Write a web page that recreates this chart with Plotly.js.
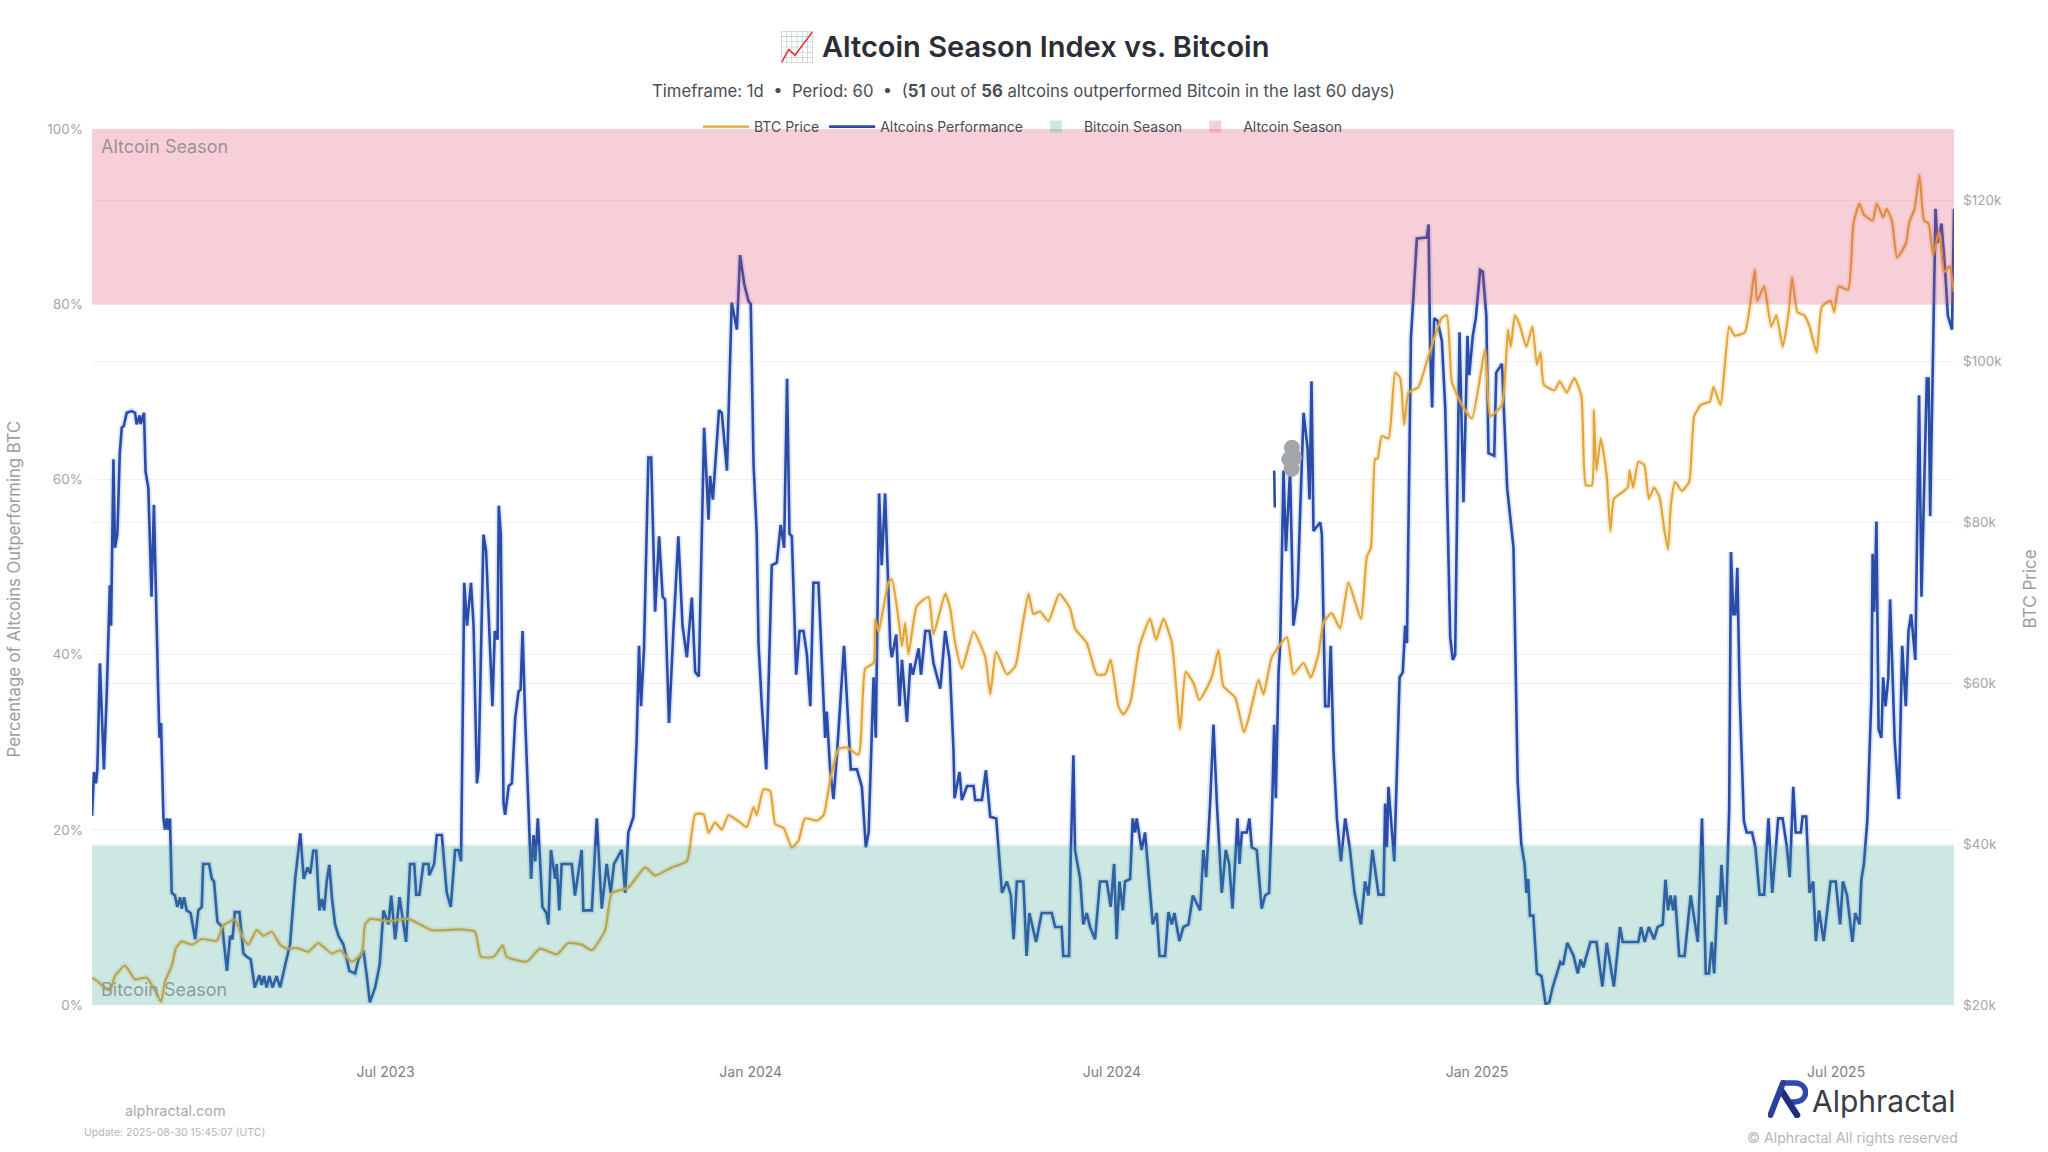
<!DOCTYPE html>
<html>
<head>
<meta charset="utf-8">
<script src="https://cdn.plot.ly/plotly-3.0.1.min.js"></script>
<style>
  html, body { margin: 0; padding: 0; background: #fff; }
</style>
</head>
<body>
<div id="chart" style="width:2048px;height:1152px;"></div>
<script>
// days counted from the left edge of the chart
var startDay = Date.UTC(2023, 1, 3);
var lastDay = 938.4;

var altDays = [0,0.7,1,2,2.7,4,4.7,6,7.4,9,9.6,10.8,11.6,12.8,14,15,16,17.5,20,21.7,22.5,24,24.5,26.2,27,28.4,30,31.2,33.4,34,34.8,36,36.8,37.7,38.5,39.3,40.2,41.8,43,44.4,45.2,46.4,47.7,49.7,52,53.6,55.3,56,59,60.4,61.5,63.2,65.7,68,69.6,70.8,72,74.3,76.3,77.6,80,82,84.4,85.5,86.7,88,89.4,91,93,94.8,98,99.8,102.4,105,106.7,108.6,110,111.5,113,114.6,115.8,117,118.3,119.6,121,122.5,124.2,126.7,129.7,132.6,134.3,136.8,138.5,140,142.7,145,146.9,149.4,150.8,152.8,155,158.3,160.3,162.4,163.4,165,167,169.6,170,172.4,173.8,176.3,178.8,180.8,183,184.7,186,187.6,189,191,192.3,194,194.8,197.3,198.6,200,201.8,203,204.4,205,206,207.4,208.2,210,211.6,213.3,215,216,217,218.3,220.5,221.3,222.5,223.4,224.7,227,229,230,231.3,233.4,234.2,235.5,236.7,241.8,243.4,246.8,247.6,251.9,254.4,256.9,259.4,261.4,263.1,267,268.7,270.3,272.9,274.5,275.7,276.7,278.2,280.4,281.8,283.8,285.8,287.6,288.8,290.8,293,295.5,297.6,299.8,302.3,304,305.8,308.5,310.7,311.5,312.9,316,317.4,320,322.4,325,326.6,328.7,330.8,332,333.4,335,335.9,337.6,339.8,342.6,345.1,347.1,348.8,350.3,351.5,352.7,354.9,356.6,358.6,360.3,362,363.6,366.1,369.5,370.3,372,373.7,375.4,379,382.4,385.5,388,390,391.4,393.9,395,396.7,398,399.7,402.3,403.1,405.3,407,408.2,410.7,412.4,413.7,416.6,417.8,420,422.1,424.1,427.5,430,432.2,434.2,434.7,437.2,438.4,441,444.3,445.1,448.5,450.5,452.7,455.7,458.6,461.1,463.1,464.5,466.1,469.4,471,472.4,475.8,478.6,483.7,485.4,488.7,489.5,492.4,493.2,494.6,495.4,498,499.6,501.3,503,505.5,508,511.4,513.4,515.1,516.4,517.8,519.5,520.6,523.2,524.5,525.7,526.5,529,530.7,533.2,534.6,536.6,538,540.8,542.5,544.2,545.5,548,550,552.6,554.8,558.5,560.1,561.5,563.5,565.2,566.9,569.4,571.4,573.1,574.8,577.3,578.3,579.5,582,583.3,584.5,587,589.5,591.2,593.2,594.6,595.8,596.6,598,598.8,600.5,601.7,603.8,605.5,607.5,608.9,610.6,612.6,613.6,614.6,615.6,619,619.8,621.5,623.2,624.3,625.7,627.4,629.4,631.6,634,636.3,639.5,641.6,643.3,645.3,648.4,650.9,651.7,652.6,653.4,656.3,659,660.6,661.8,662.7,664.7,667.7,672.7,673.6,674.4,675.4,676.4,678.1,680.3,682,684.5,685.8,687,689.2,691.2,693.2,694.1,695.9,697.4,699.6,700.9,702.7,703.8,706.7,707.7,710.6,711.7,713.2,716.4,718.5,720.3,722,722.9,723.8,724.7,726.4,728.2,730.5,732.6,734.4,736.1,738.8,740,741.4,743.5,746.7,748.8,750.2,751.6,752.9,755.2,758.2,761.2,763.4,767,770.1,771.4,779.3,780.7,782.5,784.6,787.2,789,791.6,793,794.3,795.5,796.9,797.8,799.9,802.6,805.7,809.3,811.4,813.3,814.9,816.3,817.5,819.3,820.4,821.2,823.4,825.1,826,827.2,828.2,829.2,830.4,832.5,833.9,836.6,838.3,840.4,842.7,844.9,846.8,849.8,852,854.2,855.6,857.4,858.6,861.2,862.1,863.9,865.6,867.4,868.8,870.4,872.7,876.2,878.8,881,882.4,884.5,887.2,888.6,890.8,891.7,893,894.7,896.8,897.4,898.2,899.3,900.4,901.8,902.7,903.9,905.3,906.2,908.5,910.6,912.3,914.1,915.5,916.8,918.9,920.8,922,924.7,925.6,926.4,929.1,930,932.1,933.9,935.3,937.4,938.4];
var altPct = [21.6,25,26.6,25.3,26.9,39,34.8,26.9,35.4,47.9,43.3,62.3,52.2,53.8,63,65.9,66.1,67.6,67.8,67.6,66.3,67.3,66.3,67.6,60.9,59,46.6,57.1,35.4,30.5,32.2,21.3,20,21.3,20,21.3,12.8,12.5,11.2,12.3,11,12.3,10.8,10.5,7.5,10.8,11.2,16.1,16.1,14.4,14.1,9.5,8.9,3.9,7.9,7.5,10.6,10.6,5.9,5.6,5.2,2,3.4,2.3,3.3,2,3.3,2,3.3,2,5.2,6.9,14.4,19.6,14.4,15.7,15,17.6,17.6,10.8,12.1,10.8,14.1,16,12.1,9.2,7.9,6.9,3.9,3.6,5.2,6.2,3.3,0.3,2,4.6,10.8,9.2,12.5,7.5,12.3,7.2,16.1,16.1,12.6,12.6,16.1,16.1,14.8,16.1,19.4,19.4,12.8,11.2,17.7,17.7,16.4,48.2,43.3,48.2,43.3,25.3,26.9,53.7,51.8,44.6,34.1,42.7,41.7,57,53.8,23,21.7,25,25.3,32.8,35.8,36,42.7,32.8,17.7,14.4,19.4,16.4,21.3,11.2,10.5,9.2,17.7,14.4,16.1,10.8,16.1,16.1,12.5,17.7,10.8,10.8,21.3,11,16.1,12.8,16.1,17.7,12.8,19.7,21.5,30.2,41,34.1,40.7,62.5,62.5,44.9,53.5,46.6,46.3,32.2,42.7,53.5,43.3,39.7,46.5,38,37.5,65.9,55.4,60.4,57.7,67.9,67.6,61,80.2,77.1,85.6,82.3,80.4,80,61.7,53.8,41.3,34.1,26.9,50.2,50.5,54.8,52.2,71.5,53.8,53.5,37.7,42.7,42.7,40,34.1,48.2,48.2,30.5,33.5,26.9,23.5,28.5,41,26.9,26.9,24.9,18,19.7,37.4,30.5,58.4,50.2,58.4,41,39.7,42.3,34.1,39.4,32.3,39,37.7,40.7,37.7,42.7,42.7,39,36.1,42.7,39.4,28.9,23.6,26.6,23.4,25,25,23.4,23.4,26.8,21.5,21.3,12.8,14.1,12.5,7.5,14.1,14.1,5.6,10.5,7.2,10.5,10.5,8.9,8.9,5.6,5.6,16.4,28.5,17.7,14.4,9.2,10.5,8.9,7.5,14.1,14.1,11.2,16.1,7.5,14.1,10.8,14.1,14.4,21.3,19.7,21.3,17.7,19.7,12.5,9.2,10.5,5.6,5.6,10.6,9.2,10.5,7.3,8.9,9.2,12.5,10.8,17.7,14.6,23,32,23,12.8,17.7,16.1,11,21.3,16.1,19.7,19.7,21.3,18,17.7,11,12.5,12.8,21.3,32,23.6,38,41,61,51.8,61,43.3,46.6,56.4,67.6,63.6,57.7,71.2,54.1,55.1,53.8,34.1,34.1,41,28.9,21.3,16.4,21.3,17.7,12.8,9.2,14.1,12.5,17.7,12.6,12.6,23,18,24.9,16.4,37.4,38,43.3,41.3,76.1,87.5,87.6,89.1,74.8,68.2,78.4,78.1,75.8,68.2,42,39.4,40,76.8,57.4,76.4,71.9,76.4,78.4,83.9,83.7,78.7,63,62.7,72.2,73.2,66.3,59,52.2,25.6,18.4,16.1,12.8,14.4,10.2,10.2,3.6,3.3,0.1,0.3,2,3.9,4.9,4.6,7.1,5.6,3.6,5.2,4.3,5.4,7.2,7.2,2.1,7.1,2.1,8.9,7.2,7.2,8.9,7.2,8.9,7.5,8.9,9.2,14.3,10.8,12.5,10.8,12.5,5.6,5.6,12.5,7.2,21.3,3.6,3.6,7.2,3.6,12.5,11.2,16,9.2,22.3,51.7,44.6,44.6,49.9,35.4,21,19.7,19.7,18,12.6,12.6,21.3,12.8,21.3,21.3,18,14.6,24.9,19.7,19.7,21.5,21.5,12.8,14.1,7.3,10.8,7.3,14.1,14.1,9.2,14.1,12.5,7.2,10.5,9.2,14.3,16.1,21,35.4,51.5,44.9,55.2,31.5,30.5,37.4,34.1,37.4,46.3,30.2,23.5,41,34.1,42.7,44.6,39.4,69.6,46.6,71.5,71.5,55.8,90.9,87,89.2,84,78.7,77.1,90.9];

var btcDays = [0,3,5.7,9,11.6,16.6,21.7,27.6,32.6,34.8,36.8,40.2,42.4,45.2,50.3,55.3,62.9,66.2,72.1,75.5,78.8,83,86.4,90.6,94.8,98.2,103.2,109,114,120.8,125,130.9,136,137.6,140.2,149.4,159.5,171.3,185.5,193,196,202.4,207,209,219.2,225.8,234.2,240,246.8,251.9,258.6,262,270.3,278.7,283.8,292.2,299.8,304,308.2,310.7,314,317.4,320.8,326.6,330,333.4,335,338.4,341.8,344.3,348.5,352.7,356,359.4,365.3,368.7,372,376.2,380.4,386.3,389.7,393.9,394.7,396.4,401.4,403.1,406.5,408.2,409.8,411.5,415.7,421.6,424.1,430,432.5,435,438.4,444.3,450.2,452.7,455.7,461.1,465.3,468.7,472,474.4,477.8,482,487.5,492.9,495.4,501.3,506.4,510.6,513.4,517.3,519.8,523.2,527.9,533.2,536.3,540,544.2,548.4,551.2,555.1,558.1,564.3,567.7,570.2,576.1,580.6,583.7,587.9,590.4,594.6,602.2,605.5,610.6,614.2,618.1,620.6,624.8,629,633.2,639.5,642.5,644.5,646.7,647.9,650,653.4,656.8,659.3,661.3,663.5,668.5,673.6,680.3,682.8,685.3,689.5,695.4,702.1,704.7,710.6,713.6,715,717.1,719.4,722.9,725.9,728.2,730,731.7,737,739.7,743.2,747,750.6,752.9,755.9,756.9,758.2,760.4,763.4,765.2,767,770.5,774,774.9,776.7,779.3,782.3,784.6,787.2,789.9,792.5,794.3,795.7,797.8,801.3,804.9,807.5,811,815.4,817.2,820.7,825.1,827.8,833,835.7,838,839.2,842.7,846.3,848.9,852.1,855.1,856.8,859.5,863,865.6,869.2,871.8,876.2,878,880.3,885,887.7,890.7,893,897.4,899.5,902.7,904.4,907.1,909.7,914.1,915.9,918.5,921,923.3,925.6,927.9,930.8,933.5,936.1,938.4];
var btcPrice = [23.4,22.9,22.3,21.8,23.6,24.9,23.2,23.4,21.4,20.4,22.9,24.9,27.1,27.9,27.5,28.2,28,29.9,30.6,28.6,27.5,29.3,28.6,29.1,27.5,27,27.1,26.6,27.7,26.4,26.8,25.4,26.4,30,30.7,30.4,30.7,29.3,29.4,29.1,26,26,27.4,26,25.4,27,26.3,27.7,27.5,26.8,29.3,33.9,34.6,37.1,36.1,37.1,37.9,43.7,43.7,41.4,42.7,41.8,43.6,42.7,42.1,44.6,43.6,46.8,46.6,42.5,42,39.6,40.4,43.2,42.9,43.6,47.9,51.8,52,51.1,61.8,62.5,67.9,66.4,72.5,72.9,67.9,64.6,67.5,63.6,69.6,70.7,66.1,71.1,69.3,65,61.8,66.4,63.2,58.6,63.9,61.1,62.1,66.8,71.1,68.6,68.9,67.7,71.1,69.3,66.8,65,61.1,61.1,62.9,57.1,56.1,57.5,64.6,68,65.4,68,65,54.3,61.4,60,57.9,60.7,64.1,59.6,58.2,53.9,56.4,60.4,58.6,63.2,65.7,61.1,62.5,60.7,63.6,67.5,68.7,66.8,72.5,68,75.7,76.8,87.9,87.9,90.7,90.4,98.6,97.9,92.1,96.1,96.8,100.7,105.4,105.7,97.5,95,92.9,101.4,93.2,94.6,103.9,101.8,105.7,104.6,101.8,104.3,99.6,101.1,97.1,96.4,97.5,96.1,97.9,95.7,84.6,84.6,93.9,86.4,90.4,85.7,78.9,82.9,83.6,84.3,86.4,84.3,87.5,87.1,82.9,84.3,83.2,78.9,76.6,82.1,85,83.9,85,93.2,94.6,95,96.8,94.6,104.3,103.2,103.6,107.1,111.4,107.5,109.3,104.3,105.7,101.8,106.1,110.4,106.1,105.7,104.3,101.1,106.8,107.5,106.1,109.3,108.9,117.1,119.6,118.2,117.5,119.6,117.9,118.9,117.5,112.9,114.6,117.3,118.9,123.1,117.5,117.1,113.2,116.1,111.1,111.8,108.6];

// stray bits left in the picture around late 2024
var smudgeDays = [604.7,603.4,605.8,604.6];
var smudgePct = [63.6,62.3,62.5,61.2];
var stubDays = [595.8,596.1];
var stubPct = [61,56.8];

var pctTicks = [0,20,40,60,80,100];
var pctLabels = ['0%','20%','40%','60%','80%','100%'];
var priceTicks = [20,40,60,80,100,120];
var priceLabels = ['$20k','$40k','$60k','$80k','$100k','$120k'];
var dateTicks = ['2023-07-01','2024-01-01','2024-07-01','2025-01-01','2025-07-01'];
var dateLabels = ['Jul 2023','Jan 2024','Jul 2024','Jan 2025','Jul 2025'];

var bitcoinSeasonTop = 18.2;
var altcoinSeasonBottom = 80;

function toDates(days) {
  return days.map(function(d) { return startDay + d * 86400000; });
}

var font = 'Inter, Roboto, sans-serif';
var gridColor = '#f0f2f4';
var btcColor = '#e2a63a';
var altColor = '#2b4ca6';

var logo = "<svg xmlns='http://www.w3.org/2000/svg' viewBox='0 0 40 38'>" +
  "<path d='M15 3H27C41 3 41 22 27 22H23' fill='none' stroke='#2f49ae' stroke-width='5.5'/>" +
  "<path d='M13 10L29 35' fill='none' stroke='#1f2f80' stroke-width='6.5' stroke-linecap='round'/>" +
  "<path d='M2.5 35L15 3' fill='none' stroke='#2a3f9e' stroke-width='6' stroke-linecap='round'/>" +
  "</svg>";

function halo(days, values, color, yaxis) {
  return {
    x: toDates(days), y: values, yaxis: yaxis, showlegend: false, hoverinfo: 'skip',
    type: 'scatter', mode: 'lines', opacity: 0.18,
    line: {color: color, width: 6, shape: yaxis == 'y2' ? 'spline' : 'linear', smoothing: 0.5}
  };
}

var traces = [
  halo(btcDays, btcPrice, btcColor, 'y2'),
  {
    x: toDates(btcDays), y: btcPrice, yaxis: 'y2', name: 'BTC Price',
    type: 'scatter', mode: 'lines', line: {color: btcColor, width: 2.2, shape: 'spline', smoothing: 0.5}
  },
  halo(altDays, altPct, '#3f7be0', 'y'),
  {
    x: toDates(altDays), y: altPct, name: 'Altcoins Performance',
    type: 'scatter', mode: 'lines', line: {color: altColor, width: 2.6}
  },
  {
    x: toDates(smudgeDays), y: smudgePct, showlegend: false, hoverinfo: 'skip',
    type: 'scatter', mode: 'markers', marker: {color: '#a3a6ad', size: 16}
  },
  {
    x: toDates(stubDays), y: stubPct, showlegend: false, hoverinfo: 'skip',
    type: 'scatter', mode: 'lines', line: {color: altColor, width: 2.6}
  }
];

var layout = {
  width: 2048,
  height: 1152,
  margin: {l: 92, r: 94, t: 129, b: 147},
  paper_bgcolor: '#ffffff',
  plot_bgcolor: '#ffffff',
  font: {family: font, color: '#555'},
  title: {
    text: '📈 Altcoin Season Index vs. Bitcoin',
    font: {family: font, size: 29, weight: 600, color: '#2b2e36'},
    x: 0.5, xanchor: 'center', y: 0.959, yanchor: 'middle'
  },
  xaxis: {
    type: 'date',
    range: [startDay, startDay + lastDay * 86400000],
    tickmode: 'array', tickvals: dateTicks, ticktext: dateLabels,
    showgrid: false, zeroline: false, showline: false, ticks: '',
    ticklabelstandoff: 57,
    tickfont: {size: 14, color: '#7c8086'}
  },
  yaxis: {
    range: [0, 100],
    tickmode: 'array', tickvals: pctTicks, ticktext: pctLabels,
    gridcolor: gridColor, gridwidth: 1, zeroline: false, showline: false, ticks: '',
    ticklabelstandoff: 8,
    tickfont: {size: 13.5, color: '#a2a6ab'}
  },
  yaxis2: {
    overlaying: 'y', side: 'right',
    range: [20, 128.86],
    tickmode: 'array', tickvals: priceTicks, ticktext: priceLabels,
    gridcolor: gridColor, gridwidth: 1, zeroline: false, showline: false, ticks: '',
    ticklabelstandoff: 8,
    tickfont: {size: 13.5, color: '#a2a6ab'}
  },
  legend: {
    orientation: 'h', x: 0.5, xanchor: 'center', xref: 'paper',
    y: 1.0023, yanchor: 'middle', bgcolor: 'rgba(0,0,0,0)', itemwidth: 46,
    font: {size: 14, color: '#4a4d55'}
  },
  shapes: [
    {
      type: 'rect', xref: 'paper', x0: 0, x1: 1, yref: 'y', y0: 0, y1: bitcoinSeasonTop,
      layer: 'above', line: {width: 0}, fillcolor: 'rgba(55,163,143,0.25)',
      name: 'Bitcoin Season', showlegend: true
    },
    {
      type: 'rect', xref: 'paper', x0: 0, x1: 1, yref: 'y', y0: altcoinSeasonBottom, y1: 100,
      layer: 'above', line: {width: 0}, fillcolor: 'rgba(223,63,99,0.25)',
      name: 'Altcoin Season', showlegend: true
    }
  ],
  images: [
    {
      source: 'data:image/svg+xml;utf8,' + encodeURIComponent(logo),
      xref: 'paper', yref: 'paper', x: 0.9001, y: -0.0855, sizex: 0.0215, sizey: 0.0434,
      xanchor: 'left', yanchor: 'top', sizing: 'stretch', layer: 'above'
    }
  ],
  annotations: [
    {
      text: 'Timeframe: 1d  •  Period: 60  •  (<b>51</b> out of <b>56</b> altcoins outperformed Bitcoin in the last 60 days)',
      xref: 'paper', yref: 'paper', x: 0.5, y: 1.0435, yanchor: 'middle', showarrow: false,
      font: {size: 16.7, color: '#4a4d55'}
    },
    {
      text: 'Altcoin Season', xref: 'paper', yref: 'y', x: 0.0038, y: 98, xanchor: 'left', yanchor: 'middle',
      showarrow: false, font: {size: 18, color: '#a08f9a'}
    },
    {
      text: 'Bitcoin Season', xref: 'paper', yref: 'y', x: 0.0038, y: 1.8, xanchor: 'left', yanchor: 'middle',
      showarrow: false, font: {size: 18, color: '#8d9c9b'}
    },
    {
      text: 'Percentage of Altcoins Outperforming BTC', xref: 'paper', yref: 'paper',
      x: -0.0486, y: 0.475, textangle: -90, showarrow: false,
      font: {size: 16.7, color: '#9a9ea4'}
    },
    {
      text: 'BTC Price', xref: 'paper', yref: 'paper',
      x: 1.047, y: 0.475, textangle: -90, showarrow: false,
      font: {size: 17, color: '#9a9ea4'}
    },
    {
      text: 'alphractal.com', xref: 'paper', yref: 'paper', x: 0.0451, y: -0.121,
      xanchor: 'center', yanchor: 'middle',
      showarrow: false, font: {size: 14.4, color: '#a6abb1'}
    },
    {
      text: 'Update: 2025-08-30 15:45:07 (UTC)', xref: 'paper', yref: 'paper', x: 0.0445, y: -0.145,
      xanchor: 'center', yanchor: 'middle',
      showarrow: false, font: {size: 10.5, color: '#b2b6bb'}
    },
    {
      text: 'Alphractal', xref: 'paper', yref: 'paper', x: 1.0014, y: -0.1096, xanchor: 'right', yanchor: 'middle',
      showarrow: false, font: {size: 30, color: '#3a3d45'}
    },
    {
      text: '© Alphractal All rights reserved', xref: 'paper', yref: 'paper', x: 1.003, y: -0.1514,
      xanchor: 'right', yanchor: 'middle',
      showarrow: false, font: {size: 14.2, color: '#b4b8be'}
    }
  ]
};

Plotly.newPlot('chart', traces, layout, {displayModeBar: false});
</script>
</body>
</html>
